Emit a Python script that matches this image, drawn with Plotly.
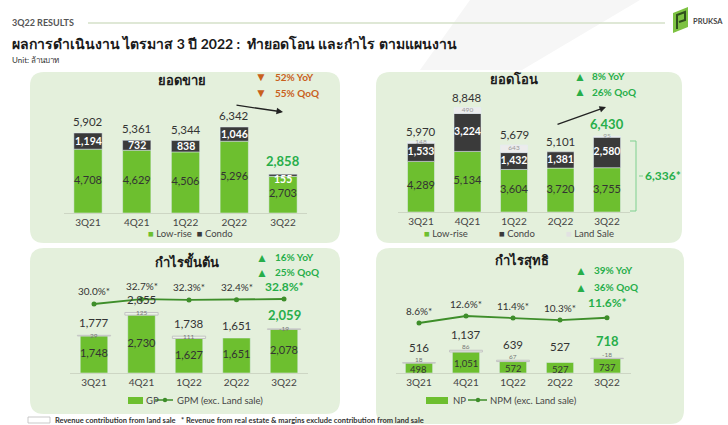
import plotly.graph_objects as go

W, H = 728, 425
def fx(x): return x / W
def fy(y): return 1 - y / H

# ---------------- data ----------------
quarters = ["3Q21", "4Q21", "1Q22", "2Q22", "3Q22"]
sales_lowrise = [4708, 4629, 4506, 5296, 2703]
sales_condo = [1194, 732, 838, 1046, 155]
sales_total = [5902, 5361, 5344, 6342, 2858]
transfer_lowrise = [4289, 5134, 3604, 3720, 3755]
transfer_condo = [1533, 3224, 1432, 1381, 2580]
transfer_land = [148, 490, 643, 0, 95]
transfer_total = [5970, 8848, 5679, 5101, 6430]
gp_ex_land = [1748, 2730, 1627, 1651, 2078]
gp_land = [29, 125, 111, 0, -19]
gp_total = [1777, 2855, 1738, 1651, 2059]
gpm = [30.0, 32.7, 32.3, 32.4, 32.8]
np_ex_land = [498, 1051, 572, 527, 737]
np_land = [18, 86, 67, 0, -18]
np_total = [516, 1137, 639, 527, 718]
npm = [8.6, 12.6, 11.4, 10.3, 11.6]

# ---------------- style ----------------
FONT = "Lato, 'Noto Sans', sans-serif"
GREEN = "#6dbf2f"
DARK = "#3a3a3a"
LANDC = "#ececec"
PANEL = "#e4f0dc"
TXT = "#333333"
HL = "#27ae4a"
ORANGE = "#c9601d"
LINEC = "#3e8e2a"
BW = 0.58

fig = go.Figure()
ann = []

def fmt(v):
    return f"{v:,}"

def txt_trace(xa, ya, ys, texts, color, size, bold=False):
    t = [("<b>%s</b>" % s if (bold and s) else s) for s in texts]
    fig.add_trace(go.Scatter(x=quarters, y=ys, text=t, mode="text", xaxis=xa, yaxis=ya,
                             textposition="middle center", cliponaxis=False, showlegend=False,
                             hoverinfo="skip", textfont=dict(color=color, size=size, family=FONT)))

def totals_ann(xa, ya, tops, totals, shift=2):
    for i, (q, top, v) in enumerate(zip(quarters, tops, totals)):
        last = i == 4
        ann.append(dict(x=q, y=top, xref=xa, yref=ya, yanchor="bottom", yshift=shift, showarrow=False,
                        text=(f"<b>{fmt(v)}</b>" if last else fmt(v)),
                        font=dict(size=13 if last else 11.5, color=HL if last else TXT, family=FONT)))

def land_ann(xa, ya, bases, lands, shift):
    for q, b, v in zip(quarters, bases, lands):
        if not v:
            continue
        ann.append(dict(x=q, y=max(b, b + v), xref=xa, yref=ya, yanchor="middle", yshift=shift,
                        showarrow=False, text=str(v), font=dict(size=6.5, color="#777777", family=FONT)))

# ---- Panel 1: sales ----
fig.add_trace(go.Bar(x=quarters, y=sales_lowrise, base=[0]*5, marker_color=GREEN, width=BW,
                     xaxis="x", yaxis="y", hoverinfo="skip"))
fig.add_trace(go.Bar(x=quarters, y=sales_condo, base=sales_lowrise, marker_color=DARK, width=BW,
                     xaxis="x", yaxis="y", hoverinfo="skip"))
txt_trace("x", "y", [v / 2 for v in sales_lowrise], [fmt(v) for v in sales_lowrise], TXT, 11)
for q, l, c in zip(quarters, sales_lowrise, sales_condo):
    ann.append(dict(x=q, y=l + c / 2, xref="x", yref="y", yanchor="middle",
                    yshift=-4 if c < 500 else 0, showarrow=False, text=f"<b>{fmt(c)}</b>",
                    font=dict(size=10.5, color="white", family=FONT)))
totals_ann("x", "y", sales_total, sales_total, 3)

# ---- Panel 2: transfers ----
tb2 = [l + c for l, c in zip(transfer_lowrise, transfer_condo)]
fig.add_trace(go.Bar(x=quarters, y=transfer_lowrise, base=[0]*5, marker_color=GREEN, width=BW,
                     xaxis="x2", yaxis="y2", hoverinfo="skip"))
fig.add_trace(go.Bar(x=quarters, y=transfer_condo, base=transfer_lowrise, marker_color=DARK, width=BW,
                     xaxis="x2", yaxis="y2", hoverinfo="skip"))
fig.add_trace(go.Bar(x=quarters, y=[v if v else None for v in transfer_land], base=tb2,
                     marker_color=LANDC, width=BW, xaxis="x2", yaxis="y2", hoverinfo="skip"))
txt_trace("x2", "y2", [v / 2 for v in transfer_lowrise], [fmt(v) for v in transfer_lowrise], TXT, 11)
txt_trace("x2", "y2", [l + c / 2 for l, c in zip(transfer_lowrise, transfer_condo)],
          [fmt(v) for v in transfer_condo], "white", 10.5, bold=True)
txt_trace("x2", "y2", [b + v / 2 for b, v in zip(tb2, transfer_land)],
          [fmt(v) if v else "" for v in transfer_land], "#999999", 6.5)
totals_ann("x2", "y2", transfer_total, transfer_total)

# ---- Panel 3: gross profit ----
fig.add_trace(go.Bar(x=quarters, y=gp_ex_land, base=[0]*5, marker_color=GREEN, width=BW,
                     xaxis="x3", yaxis="y3", hoverinfo="skip"))
fig.add_trace(go.Bar(x=quarters, y=[v if v else None for v in gp_land], base=gp_ex_land,
                     marker=dict(color="rgba(255,255,255,0.25)", line=dict(color="#c4c4c4", width=1)),
                     width=0.7, xaxis="x3", yaxis="y3", hoverinfo="skip"))
txt_trace("x3", "y3", [v / 2 for v in gp_ex_land], [fmt(v) for v in gp_ex_land], TXT, 11)
land_ann("x3", "y3", gp_ex_land, gp_land, 0)
totals_ann("x3", "y3", [max(a, b) for a, b in zip(gp_ex_land, gp_total)], gp_total, 4)
fig.add_trace(go.Scatter(x=quarters, y=gpm, mode="lines+markers", xaxis="x3", yaxis="y5",
                         line=dict(color=LINEC, width=1.8), marker=dict(size=5, color=LINEC),
                         showlegend=False, hoverinfo="skip", cliponaxis=False))

# ---- Panel 4: net profit ----
fig.add_trace(go.Bar(x=quarters, y=np_ex_land, base=[0]*5, marker_color=GREEN, width=BW,
                     xaxis="x4", yaxis="y4", hoverinfo="skip"))
fig.add_trace(go.Bar(x=quarters, y=[v if v else None for v in np_land], base=np_ex_land,
                     marker=dict(color="rgba(255,255,255,0.25)", line=dict(color="#c4c4c4", width=1)),
                     width=0.7, xaxis="x4", yaxis="y4", hoverinfo="skip"))
for q, v in zip(quarters, np_ex_land):
    ann.append(dict(x=q, y=v / 2, xref="x4", yref="y4", yanchor="middle", yshift=-1.5, showarrow=False,
                    text=fmt(v), font=dict(size=9.5, color=TXT, family=FONT)))
land_ann("x4", "y4", np_ex_land, np_land, 3.5)
totals_ann("x4", "y4", [max(a, b) for a, b in zip(np_ex_land, np_total)], np_total, 7)
fig.add_trace(go.Scatter(x=quarters, y=npm, mode="lines+markers", xaxis="x4", yaxis="y6",
                         line=dict(color=LINEC, width=1.8), marker=dict(size=5, color=LINEC),
                         showlegend=False, hoverinfo="skip", cliponaxis=False))

# ---------------- axes ----------------
panels = {
    1: dict(xc0=88, dx=48.75, base=213, top=100, scale=0.01356),
    2: dict(xc0=421, dx=46.5, base=212, top=95, scale=0.0118),
    3: dict(xc0=94, dx=47.5, base=373, top=250, scale=0.0212),
    4: dict(xc0=419, dx=47, base=373, top=250, scale=0.02),
}
layout_axes = {}
for i, p in panels.items():
    sfx = "" if i == 1 else str(i)
    layout_axes["xaxis" + sfx] = dict(
        domain=[fx(p["xc0"] - p["dx"] / 2), fx(p["xc0"] + 4.5 * p["dx"])],
        anchor="y" + sfx, type="category", range=[-0.5, 4.5], showgrid=False,
        showline=True, linecolor="#cdd6c4", linewidth=1, ticks="", fixedrange=True,
        tickfont=dict(size=10, color="#444", family=FONT), zeroline=False)
    layout_axes["yaxis" + sfx] = dict(
        domain=[fy(p["base"]), fy(p["top"])], anchor="x" + sfx,
        range=[0, (p["base"] - p["top"]) / p["scale"]], visible=False, showgrid=False)

def pct_range(ref_v, ref_px, s, base, top):
    return [ref_v - (base - ref_px) / s, ref_v + (ref_px - top) / s]
layout_axes["yaxis5"] = dict(overlaying="y3", anchor="x3", visible=False,
                             range=pct_range(30.0, 304, 1.786, 373, 250))
layout_axes["yaxis6"] = dict(overlaying="y4", anchor="x4", visible=False,
                             range=pct_range(8.6, 323, 1.75, 373, 250))

# ---------------- shapes ----------------
def rr(x0, y0, x1, y1, r):
    return (f"M {fx(x0+r)},{fy(y0)} L {fx(x1-r)},{fy(y0)} Q {fx(x1)},{fy(y0)} {fx(x1)},{fy(y0+r)} "
            f"L {fx(x1)},{fy(y1-r)} Q {fx(x1)},{fy(y1)} {fx(x1-r)},{fy(y1)} "
            f"L {fx(x0+r)},{fy(y1)} Q {fx(x0)},{fy(y1)} {fx(x0)},{fy(y1-r)} "
            f"L {fx(x0)},{fy(y0+r)} Q {fx(x0)},{fy(y0)} {fx(x0+r)},{fy(y0)} Z")

shapes = []
shapes.append(dict(type="path", xref="paper", yref="paper", layer="below",
                   path=f"M {fx(470)},{fy(0)} L {fx(640)},{fy(0)} L {fx(522)},{fy(70)} L {fx(420)},{fy(70)} Z",
                   fillcolor="#f6f6f6", line=dict(width=0)))
for (x0, y0, x1, y1) in [(30, 72, 340, 243), (376, 72, 682, 243), (30, 248, 340, 414), (376, 248, 684, 424)]:
    shapes.append(dict(type="path", path=rr(x0, y0, x1, y1, 14), xref="paper", yref="paper",
                       fillcolor=PANEL, line=dict(width=0), layer="below"))

def pline(x0, y0, x1, y1, color, width=1):
    shapes.append(dict(type="line", xref="paper", yref="paper", x0=fx(x0), y0=fy(y0), x1=fx(x1), y1=fy(y1),
                       line=dict(color=color, width=width)))
def prect(x0, y0, x1, y1, fill, lc=None, lw=0):
    shapes.append(dict(type="rect", xref="paper", yref="paper", x0=fx(x0), y0=fy(y0), x1=fx(x1), y1=fy(y1),
                       fillcolor=fill, line=dict(color=lc or fill, width=lw)))
def pcirc(cx, cy, r, color):
    shapes.append(dict(type="circle", xref="paper", yref="paper", x0=fx(cx - r), y0=fy(cy - r),
                       x1=fx(cx + r), y1=fy(cy + r), fillcolor=color, line=dict(width=0)))

pline(88, 23, 665, 23, "#d5e0c9", 1.5)
shapes.append(dict(type="path", xref="paper", yref="paper",
                   path=f"M {fx(673)},{fy(13)} L {fx(688)},{fy(7)} L {fx(688)},{fy(27)} L {fx(673)},{fy(33)} Z",
                   fillcolor="#7dc242", line=dict(width=0)))
shapes.append(dict(type="path", xref="paper", yref="paper",
                   path=f"M {fx(677)},{fy(29)} L {fx(677)},{fy(15)} L {fx(685)},{fy(12)} L {fx(685)},{fy(20)} L {fx(679)},{fy(22)}",
                   fillcolor="rgba(0,0,0,0)", line=dict(color="#2f4f1c", width=2)))
bc = "#7fd08f"
pline(636, 141, 636, 211, bc)
pline(630, 141, 636, 141, bc)
pline(630, 211, 636, 211, bc)
pline(639, 176, 643, 176, bc)
prect(128, 397, 143, 404, GREEN)
pline(155, 400, 173, 400, LINEC, 1.5)
pcirc(165, 400, 2.2, LINEC)
prect(426, 397, 448, 404, GREEN)
pline(468, 400, 487, 400, LINEC, 1.5)
pcirc(478, 400, 2.2, LINEC)
prect(28, 417, 50, 423, "white", "#bbbbbb", 0.8)

# ---------------- annotations ----------------
def A(x, y, text, size=10, color=TXT, xanchor="center", bold=False):
    ann.append(dict(x=fx(x), y=fy(y), xref="paper", yref="paper", text=("<b>%s</b>" % text if bold else text),
                    showarrow=False, xanchor=xanchor, yanchor="middle",
                    font=dict(size=size, color=color, family=FONT)))

A(10, 23, "3Q22 RESULTS", 9, "#555555", "left", True)
A(10, 44, "ผลการดำเนินงาน ไตรมาส 3 ปี 2022 :  ทำยอดโอน และกำไร ตามแผนงาน", 14, "#1a1a1a", "left", True)
A(10, 60, "Unit: ล้านบาท", 8, TXT, "left")
A(691, 22, "PRUKSA", 7.5, "#444444", "left", True)

A(182, 80, "ยอดขาย", 13, "#1a1a1a", bold=True)
A(514, 79, "ยอดโอน", 13, "#1a1a1a", bold=True)
A(187, 261, "กำไรขั้นต้น", 13, "#1a1a1a", bold=True)
A(522, 260, "กำไรสุทธิ", 13, "#1a1a1a", bold=True)

def chg(tx, y, sym, text, color, textx):
    A(tx, y, sym, 12, color)
    A(textx, y, text, 10, color, "left", True)
chg(261, 77, "▼", "52% YoY", ORANGE, 273)
chg(261, 93, "▼", "55% QoQ", ORANGE, 273)
chg(580, 76, "▲", "8% YoY", HL, 590)
chg(580, 92, "▲", "26% QoQ", HL, 590)
chg(262, 257, "▲", "16% YoY", HL, 273)
chg(262, 272, "▲", "25% QoQ", HL, 273)
chg(581, 270, "▲", "39% YoY", HL, 592)
chg(581, 287, "▲", "36% QoQ", HL, 592)

A(663, 176, "6,336*", 12, HL, bold=True)

for (x0, y0, x1, y1) in [(235, 105, 283, 112), (556, 125, 606, 107)]:
    ann.append(dict(x=fx(x1), y=fy(y1), ax=x0 - x1, ay=y0 - y1, xref="paper", yref="paper",
                    axref="pixel", ayref="pixel", showarrow=True, arrowhead=2, arrowsize=1,
                    arrowwidth=1.3, arrowcolor="#222222", text=""))

A(190, 234, f'<span style="color:{GREEN}">■</span> Low-rise  <span style="color:{DARK}">■</span> Condo', 9.5, "#444", "center")
A(422, 234, f'<span style="color:{GREEN}">■</span> Low-rise', 9.5, "#444", "left")
A(497, 234, f'<span style="color:{DARK}">■</span> Condo', 9.5, "#444", "left")
A(564, 234, f'<span style="color:#e2e2e2">■</span> Land Sale', 9.5, "#444", "left")
A(144, 400, "GP", 9.5, "#444", "left")
A(175, 400, "GPM (exc. Land sale)", 9.5, "#444", "left")
A(451, 400, "NP", 9.5, "#444", "left")
A(488, 400, "NPM (exc. Land sale)", 9.5, "#444", "left")

A(53, 420, "Revenue contribution from land sale   * Revenue from real estate & margins exclude contribution from land sale",
  7.5, "#333333", "left", True)

for i, (q, v) in enumerate(zip(quarters, gpm)):
    last = i == 4
    ann.append(dict(x=q, y=v, xref="x3", yref="y5", text=(f"<b>{v:.1f}%*</b>" if last else f"{v:.1f}%*"),
                    showarrow=False, yshift=13,
                    font=dict(size=12 if last else 10, color=HL if last else TXT, family=FONT)))
for i, (q, v) in enumerate(zip(quarters, npm)):
    last = i == 4
    ann.append(dict(x=q, y=v, xref="x4", yref="y6", text=(f"<b>{v:.1f}%*</b>" if last else f"{v:.1f}%*"),
                    showarrow=False, yshift=15 if last else 12,
                    font=dict(size=12 if last else 10, color=HL if last else TXT, family=FONT)))

fig.update_layout(width=W, height=H, margin=dict(l=0, r=0, t=0, b=0), barmode="overlay",
                  paper_bgcolor="white", plot_bgcolor="rgba(0,0,0,0)", showlegend=False,
                  font=dict(family=FONT, color=TXT), shapes=shapes, annotations=ann, **layout_axes)

fig.write_html("out.html")
